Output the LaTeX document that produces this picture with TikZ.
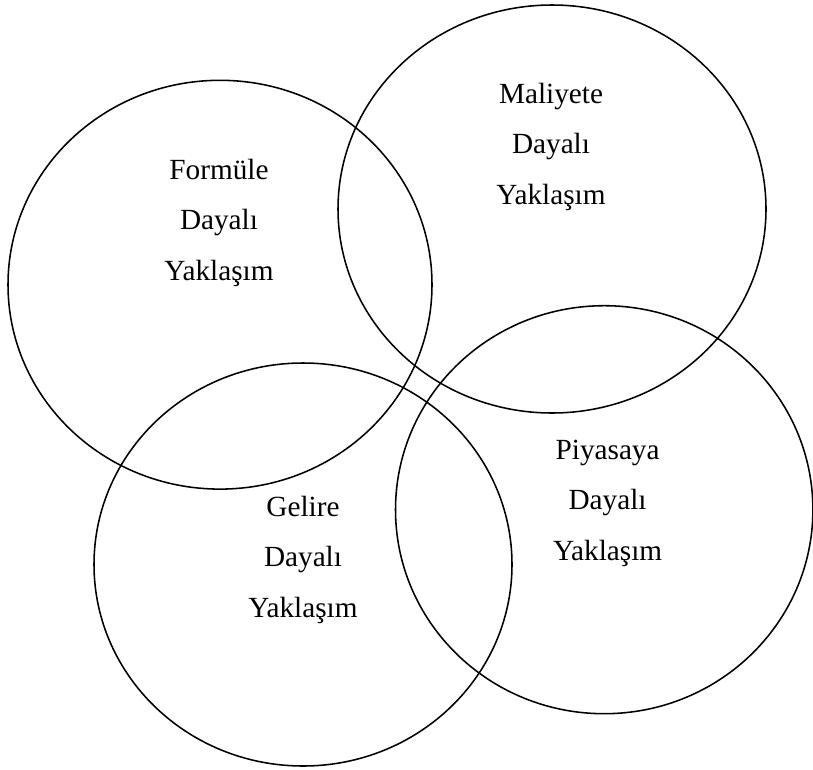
\documentclass[tikz,border=0pt]{standalone}
\usepackage{fontspec}
\setmainfont{Liberation Serif}
\usetikzlibrary{positioning}

\begin{document}
\begin{tikzpicture}[
  x=0.025cm,y=-0.025cm,
  font=\fontsize{20.8}{35.9}\selectfont,
  ring/.style={draw,line width=1.1pt},
  approach/.style={align=center,inner sep=0pt}
]
\useasboundingbox (0,0) rectangle (813,769);

% four overlapping circles
\draw[ring] (220,284.7) ellipse [x radius=212, y radius=204.4];
\draw[ring] (552,209) ellipse [x radius=214, y radius=204];
\draw[ring] (303,564.5) ellipse [x radius=209, y radius=201.5];
\draw[ring] (604.2,509.7) ellipse [x radius=208.7, y radius=204];

% labels
\node[approach] (formul) at (219,222.5) {Formüle\\Dayalı\\Yaklaşım};
\node[approach] (maliyet) at (551,146.5) {Maliyete\\Dayalı\\Yaklaşım};
\node[approach] (gelir) at (303,559.5) {Gelire\\Dayalı\\Yaklaşım};
\node[approach] (piyasa) at (607.6,503) {Piyasaya\\Dayalı\\Yaklaşım};
\end{tikzpicture}
\end{document}
